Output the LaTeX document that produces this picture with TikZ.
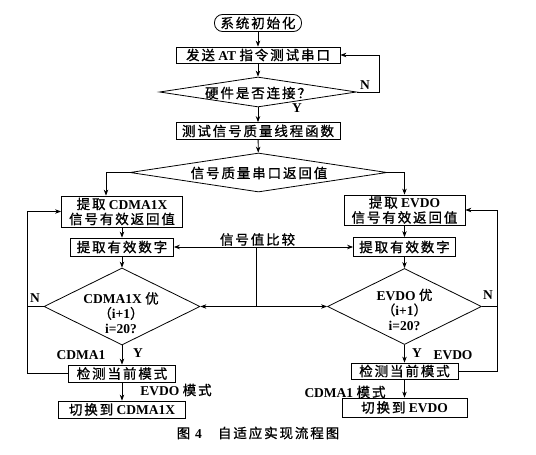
\documentclass[tikz,border=0pt]{standalone}
\usepackage{fontspec}
\setmainfont{Liberation Serif}
\newfontfamily\cjk{Noto Sans CJK SC}[LetterSpace=14,FakeBold=1]
\usetikzlibrary{shapes.geometric,arrows.meta}
\newcommand\zh[1]{{\cjk\mdseries #1}}
\begin{document}
\begin{tikzpicture}[x=1pt,y=-1pt,
  base/.style={font=\fontsize{13.5}{15}\selectfont\bfseries, inner sep=0pt},
  box/.style={base, draw, line width=0.8pt, rectangle},
  dia/.style={draw, diamond, line width=0.8pt, inner sep=0pt},
  txt/.style={base, align=center},
  lbl/.style={base},
  arr/.style={-{Stealth[length=6pt,width=4.5pt]}, line width=0.8pt},
  ln/.style={line width=0.8pt}]
\path[fill=white, use as bounding box] (0,0) rectangle (536,455);

% top chain
\node[box, rounded corners=8pt, minimum width=87pt, minimum height=17pt] (start) at (258,23) {\zh{系统初始化}};
\node[box, minimum width=164pt, minimum height=16pt] (at) at (258,55) {\zh{发送} AT \zh{指令测试串口}};
\node[dia, minimum width=197pt, minimum height=30pt] (hw) at (258,92) {};
\node[txt] (hwt) at (258,93) {\zh{硬件是否连接？}};
\node[box, minimum width=164pt, minimum height=17pt] (test) at (258,131) {\zh{测试信号质量线程函数}};
\node[dia, minimum width=257pt, minimum height=39pt] (sig) at (258.5,172.5) {};
\node[txt] (sigt) at (259,173) {\zh{信号质量串口返回值}};

% left column
\node[box, minimum width=121pt, minimum height=31pt, align=center] (c1) at (122,211.5) {\zh{提取} CDMA1X\\\zh{信号有效返回值}};
\node[box, minimum width=103pt, minimum height=18pt] (c2) at (122,247) {\zh{提取有效数字}};
\node[dia, minimum width=156pt, minimum height=77pt] (cd) at (122,306.5) {};
\node[txt] (cdt) at (121,313) {CDMA1X \zh{优}\\\zh{（}i+1\zh{）}\\i=20?};
\node[box, minimum width=107pt, minimum height=17pt] (cm) at (122,373.5) {\zh{检测当前模式}};
\node[box, minimum width=127pt, minimum height=17pt] (cs) at (122,409.5) {\zh{切换到} CDMA1X};

% right column
\node[box, minimum width=121pt, minimum height=30pt, align=center] (e1) at (404.5,210) {\zh{提取} EVDO\\\zh{信号有效返回值}};
\node[box, minimum width=102pt, minimum height=19pt] (e2) at (404.5,247) {\zh{提取有效数字}};
\node[dia, minimum width=154pt, minimum height=76pt] (ed) at (404.5,306.5) {};
\node[txt] (edt) at (404.5,309.5) {EVDO \zh{优}\\\zh{（}i+1\zh{）}\\i=20?};
\node[box, minimum width=107pt, minimum height=16pt] (em) at (404.5,371) {\zh{检测当前模式}};
\node[box, minimum width=125pt, minimum height=19pt] (es) at (404.5,407.5) {\zh{切换到} EVDO};

% middle
\node[lbl] (cmp) at (257.5,239.5) {\zh{信号值比较}};

% labels
\node[lbl] (n1) at (365,85) {N};
\node[lbl] (y1) at (297,108) {Y};
\node[lbl] (n2) at (35,298) {N};
\node[lbl] (y2) at (138,353) {Y};
\node[lbl] (lc1) at (81,355) {CDMA1};
\node[lbl] (le1) at (176,390) {EVDO \zh{模式}};
\node[lbl] (n3) at (488,295) {N};
\node[lbl] (y3) at (417,353) {Y};
\node[lbl] (le2) at (453,355) {EVDO};
\node[lbl] (lc2) at (345,392) {CDMA1 \zh{模式}};
\node[lbl] (cap) at (258,433) {\zh{图}\hspace{0.35em}4\hspace{1.2em}\zh{自适应实现流程图}};

% connectors top
\draw[arr] (start) -- (at);
\draw[arr] (at) -- (hw);
\draw[arr] (hw.east) -- ++(22,0) |- (at.east);
\draw[arr] (hw) -- (test);
\draw[arr] (test) -- (sig);
\coordinate (c1in) at ([xshift=-16pt]c1.north);
\draw[arr] (sig.west) -| (c1in);
\draw[arr] (sig.east) -| (e1.north);

% left chain
\draw[arr] (c1) -- (c2);
\draw[arr] (c2) -- (cd);
\draw[arr] (cd) -- (cm);
\draw[arr] (cm) -- (cs);
\draw[arr] (cm.west) -- ++(-41,0) coordinate (lb) |- (c1.west);
\draw[ln] (cd.west) -- (cd.west -| lb);

% right chain
\draw[arr] (e1) -- (e2);
\draw[arr] (e2) -- (ed);
\draw[arr] (ed) -- (em);
\draw[arr] (em) -- (es);
\draw[arr] (em.east) -- ++(38.5,0) coordinate (rb) |- (e1.east);
\draw[ln] (ed.east) -- (ed.east -| rb);

% comparison
\coordinate (mt) at (256,247);
\coordinate (mb) at (256,306.5);
\draw[arr] (mt) -- (c2.east);
\draw[arr] (mt) -- (e2.west);
\draw[ln] (mt) -- (mb);
\draw[arr] (mb) -- (cd.east);
\draw[arr] (mb) -- (ed.west);
\end{tikzpicture}
\end{document}
